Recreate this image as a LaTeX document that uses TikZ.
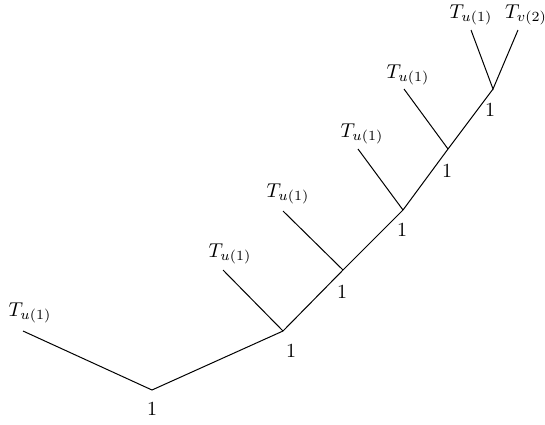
\documentclass[tikz,border=0pt]{standalone}
\begin{document}
\begin{tikzpicture}[x=0.5pt,y=-0.5pt,
  edge/.style={line width=0.5pt},
  lbl/.style={inner sep=0pt,font=\normalsize}]
\useasboundingbox (0,0) rectangle (545,424);
% vertices
\coordinate (v1) at (152,390);
\coordinate (v2) at (283,331);
\coordinate (v3) at (343,270);
\coordinate (v4) at (403,210);
\coordinate (v5) at (448,149);
\coordinate (v6) at (493,89);
% leaves
\coordinate (l1) at (23,331);
\coordinate (l2) at (223,270);
\coordinate (l3) at (283,211);
\coordinate (l4) at (358,149);
\coordinate (l5) at (404,89);
\coordinate (l6) at (471,30);
\coordinate (l7) at (518,30);
% edges
\draw[edge] (l1) -- (v1) -- (v2) -- (v3) -- (v4) -- (v5) -- (v6);
\draw[edge] (l2) -- (v2);
\draw[edge] (l3) -- (v3);
\draw[edge] (l4) -- (v4);
\draw[edge] (l5) -- (v5);
\draw[edge] (l6) -- (v6) -- (l7);
% vertex labels
\node[lbl] (n1) at (152,409) {1};
\node[lbl] (n2) at (291,351) {1};
\node[lbl] (n3) at (342,292) {1};
\node[lbl] (n4) at (402,230) {1};
\node[lbl] (n5) at (447,171) {1};
\node[lbl] (n6) at (490,110) {1};
% leaf labels
\node[lbl] (t1) at (30,313) {$T_{u(1)}$};
\node[lbl] (t2) at (230,254) {$T_{u(1)}$};
\node[lbl] (t3) at (288,194) {$T_{u(1)}$};
\node[lbl] (t4) at (362,134) {$T_{u(1)}$};
\node[lbl] (t5) at (408,75) {$T_{u(1)}$};
\node[lbl] (t6) at (471,15) {$T_{u(1)}$};
\node[lbl] (t7) at (526,15) {$T_{v(2)}$};
\end{tikzpicture}
\end{document}
